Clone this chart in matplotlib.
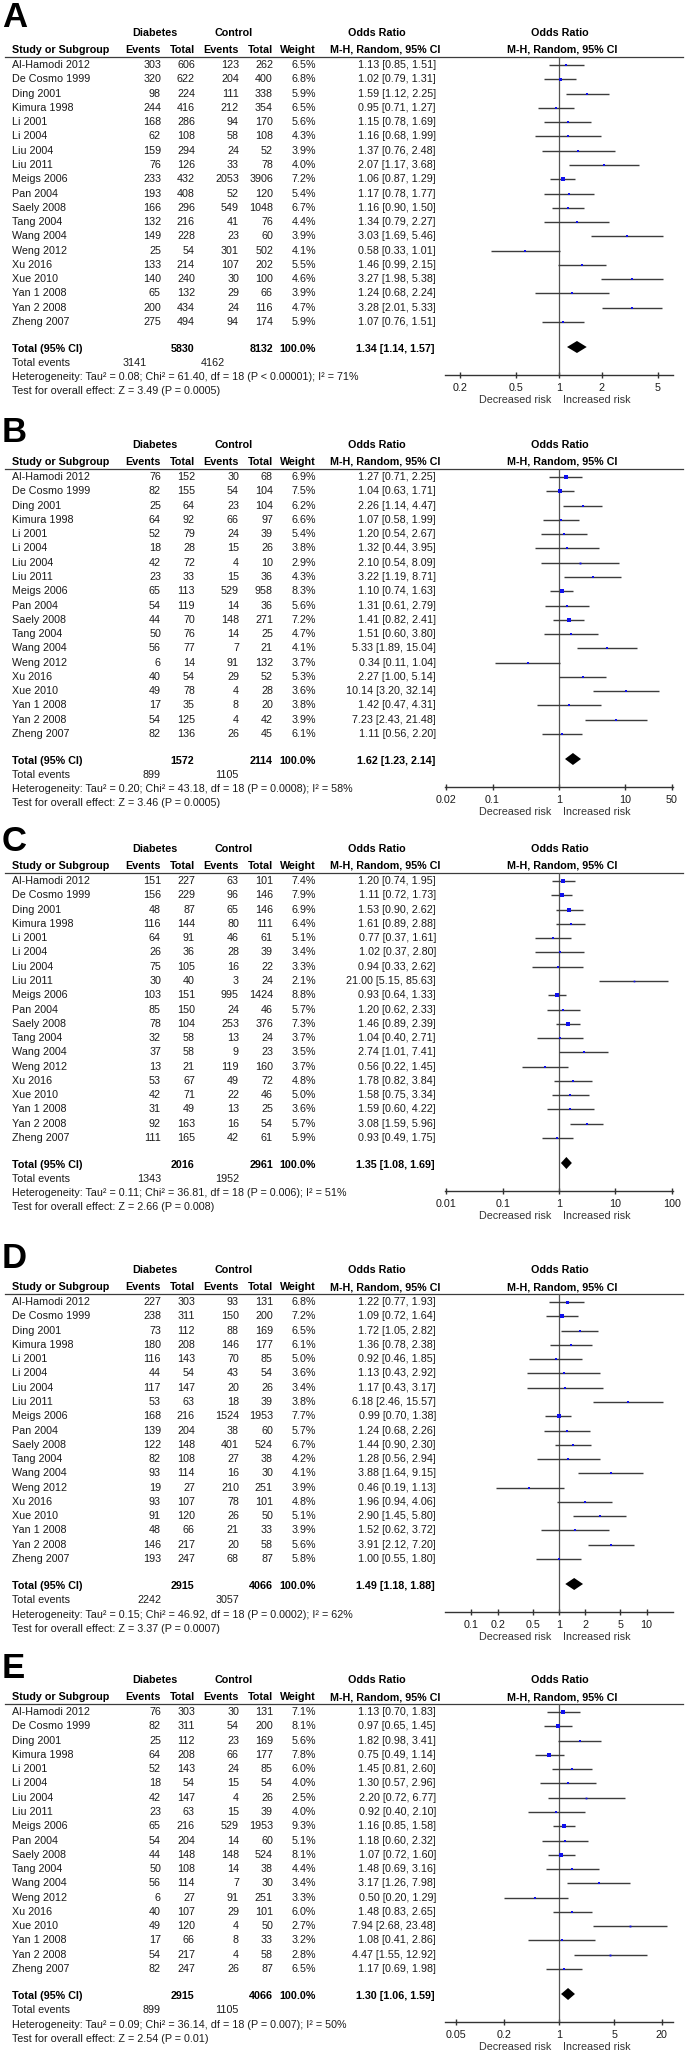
import matplotlib.pyplot as plt
from matplotlib.ticker import FixedLocator, FixedFormatter, NullLocator

plt.rcParams['font.family'] = ['Liberation Sans', 'DejaVu Sans']
FS = 7.7

STUDIES = ["Al-Hamodi 2012", "De Cosmo 1999", "Ding 2001", "Kimura 1998", "Li 2001",
           "Li 2004", "Liu 2004", "Liu 2011", "Meigs 2006", "Pan 2004", "Saely 2008",
           "Tang 2004", "Wang 2004", "Weng 2012", "Xu 2016", "Xue 2010", "Yan 1 2008",
           "Yan 2 2008", "Zheng 2007"]

# ---- panel A
A_DIA_EV = [303, 320, 98, 244, 168, 62, 159, 76, 233, 193, 166, 132, 149, 25, 133, 140, 65, 200, 275]
A_DIA_TOT = [606, 622, 224, 416, 286, 108, 294, 126, 432, 408, 296, 216, 228, 54, 214, 240, 132, 434, 494]
A_CON_EV = [123, 204, 111, 212, 94, 58, 24, 33, 2053, 52, 549, 41, 23, 301, 107, 30, 29, 24, 94]
A_CON_TOT = [262, 400, 338, 354, 170, 108, 52, 78, 3906, 120, 1048, 76, 60, 502, 202, 100, 66, 116, 174]
A_WEIGHT = [6.5, 6.8, 5.9, 6.5, 5.6, 4.3, 3.9, 4.0, 7.2, 5.4, 6.7, 4.4, 3.9, 4.1, 5.5, 4.6, 3.9, 4.7, 5.9]
A_OR = [1.13, 1.02, 1.59, 0.95, 1.15, 1.16, 1.37, 2.07, 1.06, 1.17, 1.16, 1.34, 3.03, 0.58, 1.46, 3.27, 1.24, 3.28, 1.07]
A_LO = [0.85, 0.79, 1.12, 0.71, 0.78, 0.68, 0.76, 1.17, 0.87, 0.78, 0.90, 0.79, 1.69, 0.33, 0.99, 1.98, 0.68, 2.01, 0.76]
A_HI = [1.51, 1.31, 2.25, 1.27, 1.69, 1.99, 2.48, 3.68, 1.29, 1.77, 1.50, 2.27, 5.46, 1.01, 2.15, 5.38, 2.24, 5.33, 1.51]
A_TOTAL = [5830, 8132, 3141, 4162]
A_POOLED = [1.34, 1.14, 1.57]
A_HET = "Heterogeneity: Tau² = 0.08; Chi² = 61.40, df = 18 (P < 0.00001); I² = 71%"
A_TEST = "Test for overall effect: Z = 3.49 (P = 0.0005)"
A_TICKS = [0.2, 0.5, 1, 2, 5]
A_TICKLABELS = ["0.2", "0.5", "1", "2", "5"]

# ---- panel B
B_DIA_EV = [76, 82, 25, 64, 52, 18, 42, 23, 65, 54, 44, 50, 56, 6, 40, 49, 17, 54, 82]
B_DIA_TOT = [152, 155, 64, 92, 79, 28, 72, 33, 113, 119, 70, 76, 77, 14, 54, 78, 35, 125, 136]
B_CON_EV = [30, 54, 23, 66, 24, 15, 4, 15, 529, 14, 148, 14, 7, 91, 29, 4, 8, 4, 26]
B_CON_TOT = [68, 104, 104, 97, 39, 26, 10, 36, 958, 36, 271, 25, 21, 132, 52, 28, 20, 42, 45]
B_WEIGHT = [6.9, 7.5, 6.2, 6.6, 5.4, 3.8, 2.9, 4.3, 8.3, 5.6, 7.2, 4.7, 4.1, 3.7, 5.3, 3.6, 3.8, 3.9, 6.1]
B_OR = [1.27, 1.04, 2.26, 1.07, 1.20, 1.32, 2.10, 3.22, 1.10, 1.31, 1.41, 1.51, 5.33, 0.34, 2.27, 10.14, 1.42, 7.23, 1.11]
B_LO = [0.71, 0.63, 1.14, 0.58, 0.54, 0.44, 0.54, 1.19, 0.74, 0.61, 0.82, 0.60, 1.89, 0.11, 1.00, 3.20, 0.47, 2.43, 0.56]
B_HI = [2.25, 1.71, 4.47, 1.99, 2.67, 3.95, 8.09, 8.71, 1.63, 2.79, 2.41, 3.80, 15.04, 1.04, 5.14, 32.14, 4.31, 21.48, 2.20]
B_TOTAL = [1572, 2114, 899, 1105]
B_POOLED = [1.62, 1.23, 2.14]
B_HET = "Heterogeneity: Tau² = 0.20; Chi² = 43.18, df = 18 (P = 0.0008); I² = 58%"
B_TEST = "Test for overall effect: Z = 3.46 (P = 0.0005)"
B_TICKS = [0.02, 0.1, 1, 10, 50]
B_TICKLABELS = ["0.02", "0.1", "1", "10", "50"]

# ---- panel C
C_DIA_EV = [151, 156, 48, 116, 64, 26, 75, 30, 103, 85, 78, 32, 37, 13, 53, 42, 31, 92, 111]
C_DIA_TOT = [227, 229, 87, 144, 91, 36, 105, 40, 151, 150, 104, 58, 58, 21, 67, 71, 49, 163, 165]
C_CON_EV = [63, 96, 65, 80, 46, 28, 16, 3, 995, 24, 253, 13, 9, 119, 49, 22, 13, 16, 42]
C_CON_TOT = [101, 146, 146, 111, 61, 39, 22, 24, 1424, 46, 376, 24, 23, 160, 72, 46, 25, 54, 61]
C_WEIGHT = [7.4, 7.9, 6.9, 6.4, 5.1, 3.4, 3.3, 2.1, 8.8, 5.7, 7.3, 3.7, 3.5, 3.7, 4.8, 5.0, 3.6, 5.7, 5.9]
C_OR = [1.20, 1.11, 1.53, 1.61, 0.77, 1.02, 0.94, 21.00, 0.93, 1.20, 1.46, 1.04, 2.74, 0.56, 1.78, 1.58, 1.59, 3.08, 0.93]
C_LO = [0.74, 0.72, 0.90, 0.89, 0.37, 0.37, 0.33, 5.15, 0.64, 0.62, 0.89, 0.40, 1.01, 0.22, 0.82, 0.75, 0.60, 1.59, 0.49]
C_HI = [1.95, 1.73, 2.62, 2.88, 1.61, 2.80, 2.62, 85.63, 1.33, 2.33, 2.39, 2.71, 7.41, 1.45, 3.84, 3.34, 4.22, 5.96, 1.75]
C_TOTAL = [2016, 2961, 1343, 1952]
C_POOLED = [1.35, 1.08, 1.69]
C_HET = "Heterogeneity: Tau² = 0.11; Chi² = 36.81, df = 18 (P = 0.006); I² = 51%"
C_TEST = "Test for overall effect: Z = 2.66 (P = 0.008)"
C_TICKS = [0.01, 0.1, 1, 10, 100]
C_TICKLABELS = ["0.01", "0.1", "1", "10", "100"]

# ---- panel D
D_DIA_EV = [227, 238, 73, 180, 116, 44, 117, 53, 168, 139, 122, 82, 93, 19, 93, 91, 48, 146, 193]
D_DIA_TOT = [303, 311, 112, 208, 143, 54, 147, 63, 216, 204, 148, 108, 114, 27, 107, 120, 66, 217, 247]
D_CON_EV = [93, 150, 88, 146, 70, 43, 20, 18, 1524, 38, 401, 27, 16, 210, 78, 26, 21, 20, 68]
D_CON_TOT = [131, 200, 169, 177, 85, 54, 26, 39, 1953, 60, 524, 38, 30, 251, 101, 50, 33, 58, 87]
D_WEIGHT = [6.8, 7.2, 6.5, 6.1, 5.0, 3.6, 3.4, 3.8, 7.7, 5.7, 6.7, 4.2, 4.1, 3.9, 4.8, 5.1, 3.9, 5.6, 5.8]
D_OR = [1.22, 1.09, 1.72, 1.36, 0.92, 1.13, 1.17, 6.18, 0.99, 1.24, 1.44, 1.28, 3.88, 0.46, 1.96, 2.90, 1.52, 3.91, 1.00]
D_LO = [0.77, 0.72, 1.05, 0.78, 0.46, 0.43, 0.43, 2.46, 0.70, 0.68, 0.90, 0.56, 1.64, 0.19, 0.94, 1.45, 0.62, 2.12, 0.55]
D_HI = [1.93, 1.64, 2.82, 2.38, 1.85, 2.92, 3.17, 15.57, 1.38, 2.26, 2.30, 2.94, 9.15, 1.13, 4.06, 5.80, 3.72, 7.20, 1.80]
D_TOTAL = [2915, 4066, 2242, 3057]
D_POOLED = [1.49, 1.18, 1.88]
D_HET = "Heterogeneity: Tau² = 0.15; Chi² = 46.92, df = 18 (P = 0.0002); I² = 62%"
D_TEST = "Test for overall effect: Z = 3.37 (P = 0.0007)"
D_TICKS = [0.1, 0.2, 0.5, 1, 2, 5, 10]
D_TICKLABELS = ["0.1", "0.2", "0.5", "1", "2", "5", "10"]

# ---- panel E
E_DIA_EV = [76, 82, 25, 64, 52, 18, 42, 23, 65, 54, 44, 50, 56, 6, 40, 49, 17, 54, 82]
E_DIA_TOT = [303, 311, 112, 208, 143, 54, 147, 63, 216, 204, 148, 108, 114, 27, 107, 120, 66, 217, 247]
E_CON_EV = [30, 54, 23, 66, 24, 15, 4, 15, 529, 14, 148, 14, 7, 91, 29, 4, 8, 4, 26]
E_CON_TOT = [131, 200, 169, 177, 85, 54, 26, 39, 1953, 60, 524, 38, 30, 251, 101, 50, 33, 58, 87]
E_WEIGHT = [7.1, 8.1, 5.6, 7.8, 6.0, 4.0, 2.5, 4.0, 9.3, 5.1, 8.1, 4.4, 3.4, 3.3, 6.0, 2.7, 3.2, 2.8, 6.5]
E_OR = [1.13, 0.97, 1.82, 0.75, 1.45, 1.30, 2.20, 0.92, 1.16, 1.18, 1.07, 1.48, 3.17, 0.50, 1.48, 7.94, 1.08, 4.47, 1.17]
E_LO = [0.70, 0.65, 0.98, 0.49, 0.81, 0.57, 0.72, 0.40, 0.85, 0.60, 0.72, 0.69, 1.26, 0.20, 0.83, 2.68, 0.41, 1.55, 0.69]
E_HI = [1.83, 1.45, 3.41, 1.14, 2.60, 2.96, 6.77, 2.10, 1.58, 2.32, 1.60, 3.16, 7.98, 1.29, 2.65, 23.48, 2.86, 12.92, 1.98]
E_TOTAL = [2915, 4066, 899, 1105]
E_POOLED = [1.30, 1.06, 1.59]
E_HET = "Heterogeneity: Tau² = 0.09; Chi² = 36.14, df = 18 (P = 0.007); I² = 50%"
E_TEST = "Test for overall effect: Z = 2.54 (P = 0.01)"
E_TICKS = [0.05, 0.2, 1, 5, 20]
E_TICKLABELS = ["0.05", "0.2", "1", "5", "20"]

panels = [
    ("A", A_DIA_EV, A_DIA_TOT, A_CON_EV, A_CON_TOT, A_WEIGHT, A_OR, A_LO, A_HI, A_TOTAL, A_POOLED, A_HET, A_TEST, A_TICKS, A_TICKLABELS),
    ("B", B_DIA_EV, B_DIA_TOT, B_CON_EV, B_CON_TOT, B_WEIGHT, B_OR, B_LO, B_HI, B_TOTAL, B_POOLED, B_HET, B_TEST, B_TICKS, B_TICKLABELS),
    ("C", C_DIA_EV, C_DIA_TOT, C_CON_EV, C_CON_TOT, C_WEIGHT, C_OR, C_LO, C_HI, C_TOTAL, C_POOLED, C_HET, C_TEST, C_TICKS, C_TICKLABELS),
    ("D", D_DIA_EV, D_DIA_TOT, D_CON_EV, D_CON_TOT, D_WEIGHT, D_OR, D_LO, D_HI, D_TOTAL, D_POOLED, D_HET, D_TEST, D_TICKS, D_TICKLABELS),
    ("E", E_DIA_EV, E_DIA_TOT, E_CON_EV, E_CON_TOT, E_WEIGHT, E_OR, E_LO, E_HI, E_TOTAL, E_POOLED, E_HET, E_TEST, E_TICKS, E_TICKLABELS),
]

# layout (pixels)
W, H = 685, 2052
offsets = [0, 412, 816, 1237, 1647]
letter_y = [27, 442, 851, 1268, 1678]
xlims = [(0.157, 6.38), (0.0192, 52), (0.0095, 105), (0.05, 20), (0.036, 27.7)]
totev_x = [(147, 225), (161, 239), (161, 239), (161, 239), (161, 239)]
ROW0, STEP = 65, 14.28
TXT = '#1a1a1a'
LINE = '#3c3c3c'

fig = plt.figure(figsize=(W / 100, H / 100), dpi=100)
tx = fig.add_axes([0, 0, 1, 1])
tx.set_xlim(0, W)
tx.set_ylim(H, 0)
tx.axis('off')

# the heterogeneity line of panel A runs from x=12 to x=357 in the reference
fig.canvas.draw()
probe = tx.text(0, 0, A_HET, fontsize=FS)
FS = FS * 345 / probe.get_window_extent(fig.canvas.get_renderer()).width
probe.remove()


def t(x, y, s, ha='left', bold=False, color=None):
    if color is None:
        color = 'black' if bold else TXT
    tx.text(x, y, s, ha=ha, va='center', fontsize=FS, color=color,
            fontweight='bold' if bold else 'normal')


for k, p in enumerate(panels):
    (letter, dev, dtot, cev, ctot, wt, orr, lo, hi, total, pooled, het, test, ticks, ticklabels) = p
    o = offsets[k]

    tx.text(2, letter_y[k], letter, fontsize=25, fontweight='bold', va='baseline', color='black')

    # headers
    t(155, o + 33, "Diabetes", ha='center', bold=True)
    t(234, o + 33, "Control", ha='center', bold=True)
    t(377, o + 33, "Odds Ratio", ha='center', bold=True)
    t(560, o + 33, "Odds Ratio", ha='center', bold=True)
    t(12, o + 50, "Study or Subgroup", bold=True)
    t(161, o + 50, "Events", ha='right', bold=True)
    t(195, o + 50, "Total", ha='right', bold=True)
    t(239, o + 50, "Events", ha='right', bold=True)
    t(273, o + 50, "Total", ha='right', bold=True)
    t(316, o + 50, "Weight", ha='right', bold=True)
    t(385, o + 50, "M-H, Random, 95% CI", ha='center', bold=True)
    t(562, o + 50, "M-H, Random, 95% CI", ha='center', bold=True)
    tx.plot([5, 683], [o + 57, o + 57], color=LINE, lw=0.9)

    # study rows
    for i, name in enumerate(STUDIES):
        y = o + ROW0 + STEP * i
        t(12, y, name)
        t(161, y, str(dev[i]), ha='right')
        t(195, y, str(dtot[i]), ha='right')
        t(239, y, str(cev[i]), ha='right')
        t(273, y, str(ctot[i]), ha='right')
        t(316, y, f"{wt[i]:.1f}%", ha='right')
        t(436, y, f"{orr[i]:.2f} [{lo[i]:.2f}, {hi[i]:.2f}]", ha='right')

    # totals
    yt = o + 349
    t(12, yt, "Total (95% CI)", bold=True)
    t(194, yt, str(total[0]), ha='right', bold=True)
    t(273, yt, str(total[1]), ha='right', bold=True)
    t(316, yt, "100.0%", ha='right', bold=True)
    t(435, yt, f"{pooled[0]:.2f} [{pooled[1]:.2f}, {pooled[2]:.2f}]", ha='right', bold=True)
    t(12, o + 363, "Total events")
    t(totev_x[k][0], o + 363, str(total[2]), ha='right')
    t(totev_x[k][1], o + 363, str(total[3]), ha='right')
    t(12, o + 377.5, het)
    t(12, o + 391.5, test)
    t(551, o + 400, "Decreased risk", ha='right', color='#333333')
    t(563, o + 400, "Increased risk", color='#333333')

    # forest plot
    ax = fig.add_axes([445 / W, 1 - (o + 375) / H, 228 / W, (375 - 57) / H])
    ax.patch.set_visible(False)
    ax.set_xscale('log')
    ax.set_xlim(*xlims[k])
    ax.set_ylim(o + 375, o + 57)
    for s in ('top', 'left', 'right'):
        ax.spines[s].set_visible(False)
    ax.spines['bottom'].set_color('#333333')
    ax.spines['bottom'].set_linewidth(1.0)
    ax.yaxis.set_major_locator(NullLocator())
    ax.xaxis.set_major_locator(FixedLocator(ticks))
    ax.xaxis.set_major_formatter(FixedFormatter(ticklabels))
    ax.xaxis.set_minor_locator(NullLocator())
    ax.tick_params(axis='x', direction='inout', length=5, width=1, pad=3.5,
                   labelsize=FS, color='#333333', labelcolor=TXT)
    ax.axvline(1, color='#555555', lw=0.9)

    for i in range(len(STUDIES)):
        y = o + ROW0 + STEP * i
        ax.plot([lo[i], hi[i]], [y, y], color=LINE, lw=1.0, solid_capstyle='butt')
        ax.plot(orr[i], y, 's', ms=0.8 + 0.2 * wt[i], color='#1010ee', mec='#1010ee', mew=0)

    yd = o + 347
    ax.fill([pooled[1], pooled[0], pooled[2], pooled[0]], [yd, yd - 6, yd, yd + 6],
            color='black', lw=0)

fig.savefig('out.png', dpi=100)
